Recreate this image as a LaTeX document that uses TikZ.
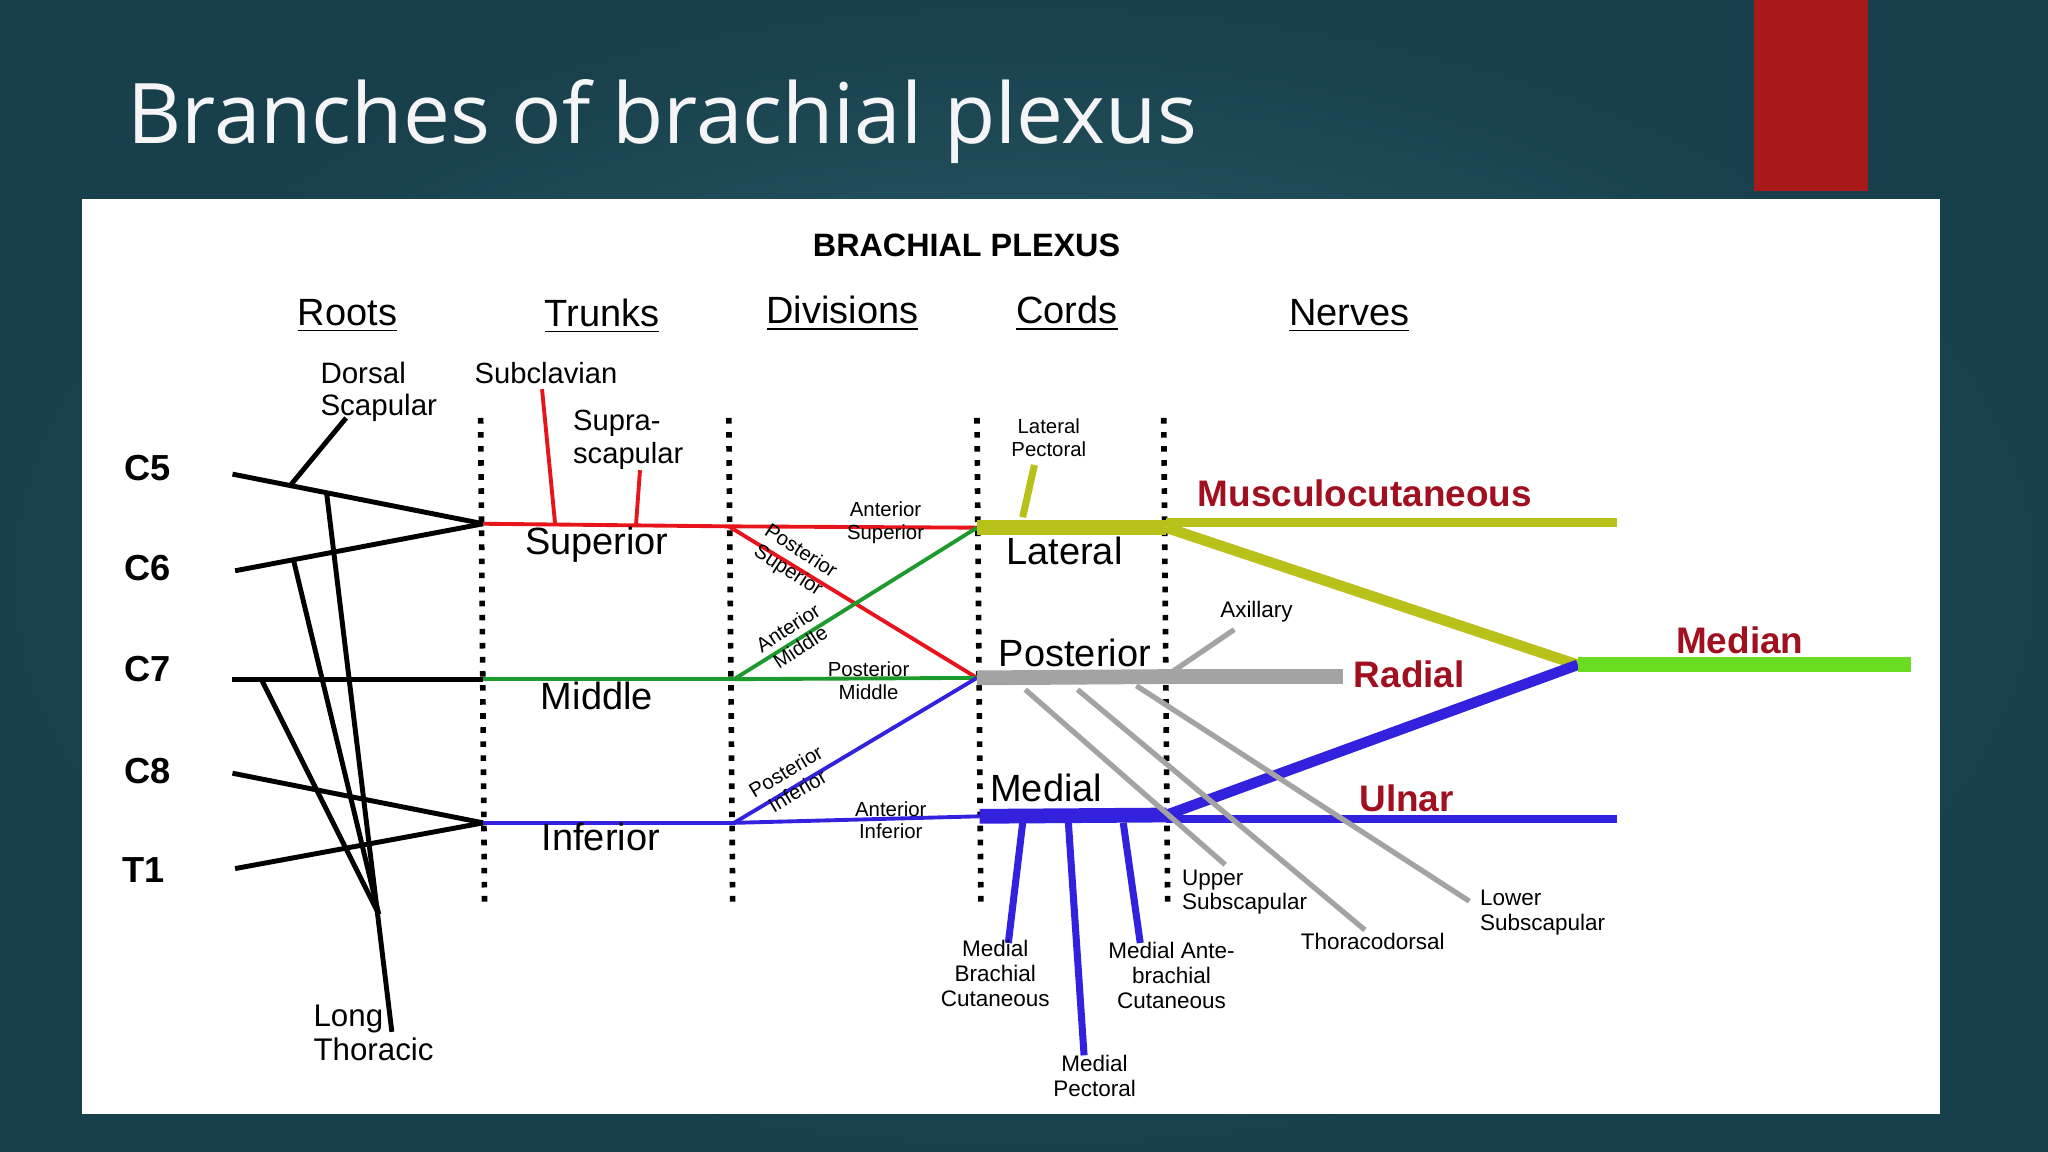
\documentclass[tikz,border=0pt]{standalone}
\usepackage{fontspec}
\setsansfont{Liberation Sans}
\newfontfamily\titlefont{Open Sans}
\usetikzlibrary{positioning}
\definecolor{bgin}{HTML}{2F6A74}
\definecolor{bgout}{HTML}{183F4C}
\definecolor{slidered}{HTML}{A8191A}
\definecolor{supred}{HTML}{E8141C}
\definecolor{midgreen}{HTML}{1C9A2C}
\definecolor{infblue}{HTML}{3322DD}
\definecolor{latolive}{HTML}{B8C01A}
\definecolor{postgray}{HTML}{A3A3A3}
\definecolor{medgreen}{HTML}{6ADD22}
\definecolor{nervered}{HTML}{A0101E}

\begin{document}
\begin{tikzpicture}[
    x=0.013061cm, y=-0.013061cm,
    every node/.style={font=\sffamily, text=black},
    head/.style={font=\sffamily\fontsize{10.8}{11}\selectfont},
    root/.style={font=\sffamily\bfseries\fontsize{10.3}{11}\selectfont},
    part/.style={font=\sffamily\fontsize{10.8}{11}\selectfont},
    small/.style={font=\sffamily\fontsize{5.8}{6.5}\selectfont, align=center, inner sep=0pt},
    tiny/.style={font=\sffamily\fontsize{6.4}{7.1}\selectfont, align=center, inner sep=0pt},
    nerve/.style={font=\sffamily\bfseries\fontsize{10.5}{11}\selectfont, text=nervered},
    blk/.style={line width=1.4pt, black},
    dots/.style={line width=1.6pt, dash pattern=on 1.6pt off 2.4pt},
    thin/.style={line width=1.1pt},
    cord/.style={line width=4.2pt},
    nrv/.style={line width=3pt}
]
% slide background
\useasboundingbox (0,0) rectangle (1568,882);
\shade[inner color=bgin, outer color=bgout] (0,0) rectangle (1568,882);
\fill[slidered] (1343,0) rectangle (1430,146);
\node[anchor=base west, inner sep=0pt, font=\titlefont\fontsize{23.8}{30}\selectfont, text=white!92!gray] (title) at (97,110) {Branches of brachial plexus};
\fill[white] (63,152) rectangle (1485,853);

% headings
\node[font=\sffamily\bfseries\fontsize{9.2}{10}\selectfont] (heading) at (740,188) {BRACHIAL PLEXUS};
\node[head] (roots) at (266,242) {\underline{Roots}};
\node[head] (trunks) at (461,242) {\underline{Trunks}};
\node[head] (divisions) at (645,240) {\underline{Divisions}};
\node[head] (cords) at (817,240) {\underline{Cords}};
\node[head] (nerves) at (1033,242) {\underline{Nerves}};

% separators
\foreach \x/\n in {368/a,558/b,748/c,891/d}
    \draw[dots] (\x,320) coordinate (top\n) -- (\x+3,695) coordinate (bot\n);

% roots
\node[root] (c5) at (113,358) {C5};
\node[root] (c6) at (113,435) {C6};
\node[root] (c7) at (113,512) {C7};
\node[root] (c8) at (113,590) {C8};
\node[root] (t1) at (110,666) {T1};
\coordinate (r5) at (178,363);
\coordinate (r6) at (180,437);
\coordinate (r7) at (178,520);
\coordinate (r8) at (178,592);
\coordinate (r1) at (180,665);
\coordinate (sup) at (370,401);
\coordinate (midt) at (370,520);
\coordinate (inf) at (370,630);
\draw[blk] (r5) -- (sup);
\draw[blk] (r6) -- (sup);
\draw[blk] (r7) -- (midt);
\draw[blk] (r8) -- (inf);
\draw[blk] (r1) -- (inf);

% dorsal scapular, long thoracic
\node[align=left, inner sep=0pt, font=\sffamily\fontsize{8.4}{9.2}\selectfont] (dorsal) at (290,300) {Dorsal\\Scapular};
\coordinate (ds0) at (222,372);
\coordinate (ds1) at (265,320);
\draw[blk] (ds0) -- (ds1);
\coordinate (lt5) at (250,377);
\coordinate (lt6) at (225,430);
\coordinate (lt7) at (200,520);
\coordinate (ltj) at (290,700);
\coordinate (lte) at (300,790);
\draw[blk] (lt5) -- (lte);
\draw[blk] (lt6) -- (ltj);
\draw[blk] (lt7) -- (ltj);
\node[align=left, inner sep=0pt, font=\sffamily\fontsize{8.9}{9.6}\selectfont] (longthor) at (286,791) {Long\\Thoracic};

% trunks
\coordinate (supe) at (558,403);
\coordinate (mide) at (562,520);
\coordinate (infe) at (562,630);
\draw[thin, supred] (sup) -- (supe);
\draw[thin, midgreen] (midt) -- (mide);
\draw[thin, infblue] (inf) -- (infe);
\node[part] (superior) at (457,417) {Superior};
\node[part] (middle) at (457,533) {Middle};
\node[part] (inferior) at (460,641) {Inferior};
\node[font=\sffamily\fontsize{8.3}{9}\selectfont] (subclav) at (418,286) {Subclavian};
\node[align=left, inner sep=0pt, font=\sffamily\fontsize{8.3}{9.4}\selectfont] (suprasc) at (481,337) {Supra-\\scapular};
\coordinate (sc0) at (415,298);
\coordinate (sc1) at (425,401);
\coordinate (ss0) at (490,360);
\coordinate (ss1) at (487,401);
\draw[thin, supred] (sc0) -- (sc1);
\draw[thin, supred] (ss0) -- (ss1);

% divisions
\coordinate (lat) at (748,404);
\coordinate (post) at (748,519);
\coordinate (med) at (750,625);
\draw[thin, supred] (supe) -- (lat);
\draw[thin, supred] (supe) -- (post);
\draw[thin, midgreen] (mide) -- (lat);
\draw[thin, midgreen] (mide) -- (post);
\draw[thin, infblue] (infe) -- (post);
\draw[thin, infblue] (infe) -- (med);
\node[small] (antsup) at (678,400) {Anterior\\Superior};
\node[small, rotate=-33] (postsup) at (608,430) {Posterior\\Superior};
\node[small, rotate=33] (antmid) at (608,488) {Anterior\\Middle};
\node[small] (postmid) at (665,521) {Posterior\\Middle};
\node[small, rotate=31] (postinf) at (606,598) {Posterior\\Inferior};
\node[small] (antinf) at (682,628) {Anterior\\Inferior};

% cords
\coordinate (late) at (893,404);
\coordinate (poste) at (893,518);
\coordinate (mede) at (893,624);
\draw[cord, latolive] (lat) -- (late);
\draw[cord, postgray] (post) -- (poste);
\draw[cord, infblue] (med) -- (mede);
\node[part] (lateral) at (815,422) {Lateral};
\node[part] (posterior) at (823,500) {Posterior};
\node[part] (medial) at (801,603) {Medial};
\node[small] (latpec) at (803,335) {Lateral\\Pectoral};
\coordinate (lp0) at (783,396);
\coordinate (lp1) at (792,356);
\draw[thin, latolive, line width=2pt] (lp0) -- (lp1);

% nerves
\coordinate (musc0) at (893,400);
\coordinate (musc) at (1238,400);
\coordinate (medj) at (1208,509);
\coordinate (mede2) at (1463,509);
\coordinate (rad) at (1028,518);
\coordinate (uln0) at (893,627);
\coordinate (uln) at (1238,627);
\draw[nrv, latolive, line width=2.5pt] (musc0) -- (musc);
\draw[nrv, latolive] (late) -- (medj);
\draw[nrv, infblue] (mede) -- (medj);
\draw[nrv, infblue, line width=2.5pt] (uln0) -- (uln);
\draw[cord, medgreen] (medj) -- (mede2);
\draw[cord, postgray] (poste) -- (rad);
\node[nerve] (muscn) at (1045,378) {Musculocutaneous};
\node[nerve] (median) at (1332,490) {Median};
\node[nerve] (radial) at (1079,516) {Radial};
\node[nerve] (ulnar) at (1077,611) {Ulnar};

% posterior cord branches
\coordinate (ax0) at (898,514);
\coordinate (ax1) at (945,482);
\coordinate (us0) at (785,528);
\coordinate (us1) at (938,662);
\coordinate (td0) at (825,528);
\coordinate (td1) at (1045,712);
\coordinate (ls0) at (870,525);
\coordinate (ls1) at (1125,690);
\draw[thin, postgray, line width=1.5pt] (ax0) -- (ax1);
\draw[thin, postgray, line width=1.5pt] (us0) -- (us1);
\draw[thin, postgray, line width=1.5pt] (td0) -- (td1);
\draw[thin, postgray, line width=1.5pt] (ls0) -- (ls1);
\node[tiny] (axillary) at (962,468) {Axillary};
\node[tiny, align=left] (uppersub) at (953,683) {Upper\\Subscapular};
\node[tiny] (thoraco) at (1051,721) {Thoracodorsal};
\node[tiny, align=left] (lowersub) at (1181,699) {Lower\\Subscapular};

% medial cord branches
\coordinate (mb0) at (783,630);
\coordinate (mb1) at (772,722);
\coordinate (mp0) at (818,630);
\coordinate (mp1) at (830,808);
\coordinate (ma0) at (860,630);
\coordinate (ma1) at (873,722);
\draw[infblue, line width=2pt] (mb0) -- (mb1);
\draw[infblue, line width=2pt] (mp0) -- (mp1);
\draw[infblue, line width=2pt] (ma0) -- (ma1);
\node[tiny] (medbrach) at (762,745) {Medial\\Brachial\\Cutaneous};
\node[tiny] (medpec) at (838,824) {Medial\\Pectoral};
\node[tiny] (medante) at (897,747) {Medial Ante-\\brachial\\Cutaneous};
\end{tikzpicture}
\end{document}
